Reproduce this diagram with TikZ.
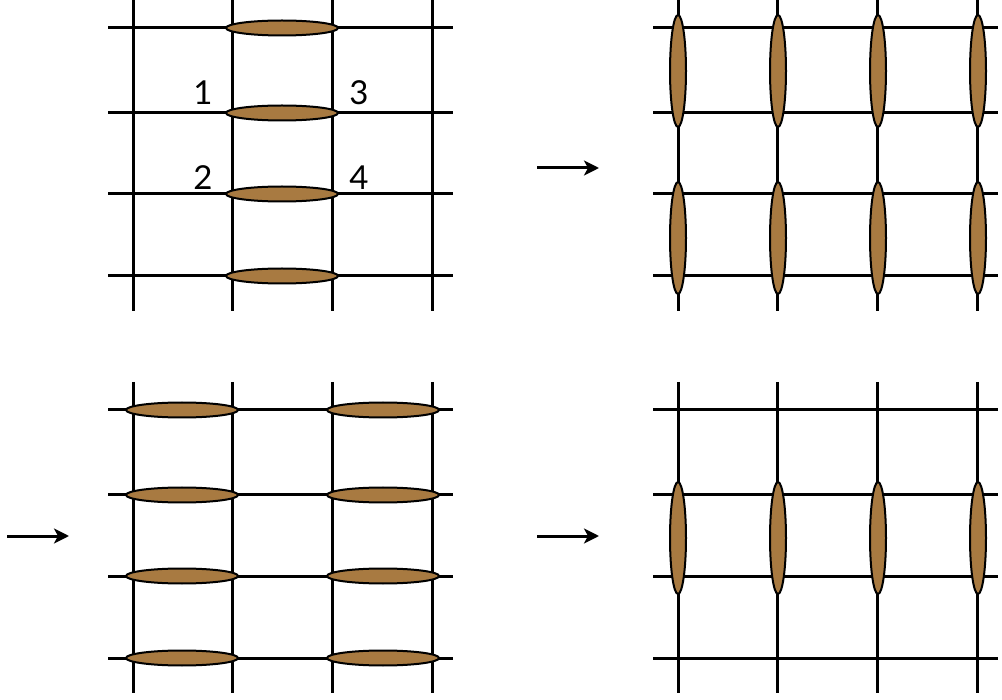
\documentclass[tikz,border=0pt]{standalone}
\usepackage{fontspec}
\setmainfont{Lato}
\usepackage{xcolor}
\usetikzlibrary{arrows.meta,shapes.geometric}
\definecolor{bead}{HTML}{A87A41}
\tikzset{
  gridline/.style={line width=3pt, color=black, line cap=butt},
  % beads: horizontal lie on a row, vertical sit on a column
  hbead/.style={ellipse, draw=black, fill=bead, line width=2pt, inner sep=0pt,
                minimum width=112pt, minimum height=15pt},
  vbead/.style={hbead, minimum width=16pt, minimum height=112pt},
  arr/.style={-{Stealth[length=15pt,width=15pt,inset=4pt]}, line width=3pt},
  site/.style={font=\fontsize{33}{33}\selectfont, inner sep=0pt},
}
\begin{document}
\begin{tikzpicture}[x=1pt,y=-1pt]
  \useasboundingbox (0,0) rectangle (1002,700);

  % four lattices, same grid, shifted
  \foreach \ox/\oy in {0/0, 545/0, 0/382, 545/382}{
    \foreach \gx in {133,232,332,432}
      \draw[gridline] (\gx+\ox,\oy) -- (\gx+\ox,311+\oy);
    \foreach \gy in {28,113,194,276}
      \draw[gridline] (108+\ox,\gy+\oy) -- (453+\ox,\gy+\oy);
  }

  % top left: one column of horizontal beads
  \foreach \gy [count=\i] in {28,113,194,276}
    \node[hbead] (tl\i) at (282,\gy) {};
  \node[site] (s1) at (203,93) {1};
  \node[site] (s3) at (359,93) {3};
  \node[site] (s2) at (203,178) {2};
  \node[site] (s4) at (359,178) {4};

  % top right: vertical beads on every column
  \foreach \gx [count=\i] in {678,778,878,978}{
    \node[vbead] (tra\i) at (\gx,71) {};
    \node[vbead] (trb\i) at (\gx,238) {};
  }

  % bottom left: two columns of horizontal beads
  \foreach \gy [count=\i] in {410,495,576,658}{
    \node[hbead] (bla\i) at (182,\gy) {};
    \node[hbead] (blb\i) at (383,\gy) {};
  }

  % bottom right: one row of vertical beads
  \foreach \gx [count=\i] in {678,778,878,978}
    \node[vbead] (br\i) at (\gx,538) {};

  % arrows between stages
  \coordinate (a1s) at (537,168); \coordinate (a1e) at (599,168);
  \coordinate (a2s) at (7,536);   \coordinate (a2e) at (69,536);
  \coordinate (a3s) at (537,536); \coordinate (a3e) at (599,536);
  \draw[arr] (a1s) -- (a1e);
  \draw[arr] (a2s) -- (a2e);
  \draw[arr] (a3s) -- (a3e);
\end{tikzpicture}
\end{document}
